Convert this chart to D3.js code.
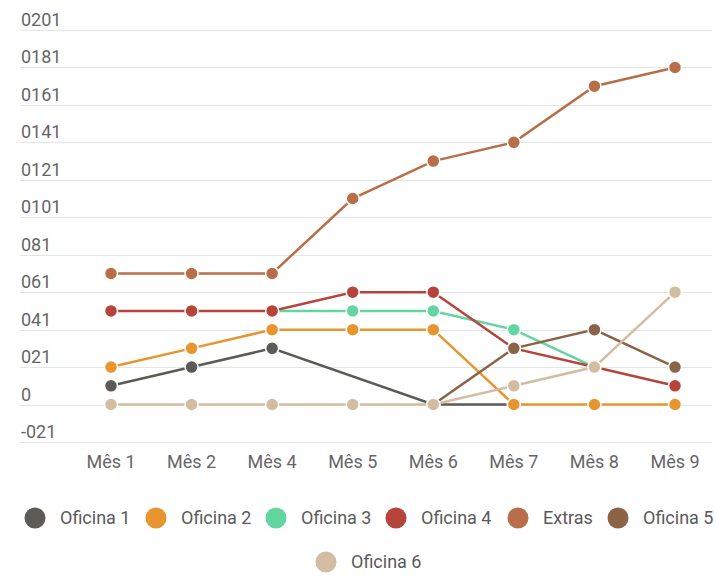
<!DOCTYPE html>
<html lang="pt">
<head>
<meta charset="UTF-8">
<title>Oficinas por mês</title>
<style>
  * { margin: 0; padding: 0; }
  body { background: #fff; font-family: Roboto, "Noto Sans", sans-serif; }
  .grid line { stroke: #e4e4e4; stroke-width: 1; }
  .tick-label { fill: #666; font-size: 18px; }
  .legend text { fill: #5a5a5a; font-size: 18px; }
</style>
</head>
<body>
<svg id="chart" width="716" height="576"></svg>
<script src="https://cdnjs.cloudflare.com/ajax/libs/d3/7.8.5/d3.min.js"></script>
<script>
var months = ['Mês 1', 'Mês 2', 'Mês 4', 'Mês 5', 'Mês 6', 'Mês 7', 'Mês 8', 'Mês 9'];
var yTicks = [-20, 0, 20, 40, 60, 80, 100, 120, 140, 160, 180, 200];
var yTickLabels = ['-021', '0', '021', '041', '061', '081', '0101', '0121', '0141', '0161', '0181', '0201'];

var seriesNames = ['Oficina 1', 'Oficina 2', 'Oficina 3', 'Oficina 4', 'Extras', 'Oficina 5', 'Oficina 6'];
var seriesColors = ['#5c5b56', '#e8952f', '#62d6a0', '#b6443b', '#b86e49', '#8b6346', '#d3bda2'];

var oficina1 = [10, 20, 30, null, 0, 0, null, null];
var oficina2 = [20, 30, 40, 40, 40, 0, 0, 0];
var oficina3 = [null, null, 50, 50, 50, 40, 20, null];
var oficina4 = [50, 50, 50, 60, 60, 30, 20, 10];
var extras   = [70, 70, 70, 110, 130, 140, 170, 180];
var oficina5 = [null, null, null, null, 0, 30, 40, 20];
var oficina6 = [0, 0, 0, 0, 0, 10, 20, 60];

var seriesValues = [oficina1, oficina2, oficina3, oficina4, extras, oficina5, oficina6];

var svg = d3.select('#chart');

var x = d3.scalePoint().domain(months).range([111, 675]);
var y = d3.scaleLinear().domain([-20, 200]).range([442, 30]);

// gridlines + y labels (labels sit just above each line)
var grid = svg.append('g').attr('class', 'grid');
grid.selectAll('line').data(yTicks).enter().append('line')
  .attr('x1', 20).attr('x2', 712)
  .attr('y1', function(d) { return Math.round(y(d)) + 0.5; })
  .attr('y2', function(d) { return Math.round(y(d)) + 0.5; });
grid.selectAll('text').data(yTicks).enter().append('text')
  .attr('class', 'tick-label')
  .attr('x', 21)
  .attr('y', function(d) { return y(d) - 4; })
  .text(function(d, i) { return yTickLabels[i]; });

// x labels
svg.append('g').selectAll('text').data(months).enter().append('text')
  .attr('class', 'tick-label')
  .attr('x', function(d) { return x(d); })
  .attr('y', 468)
  .attr('text-anchor', 'middle')
  .text(function(d) { return d; });

var line = d3.line()
  .x(function(d) { return x(d.m); })
  .y(function(d) { return y(d.v); });

seriesValues.forEach(function(vals, s) {
  var pts = vals.map(function(v, i) { return { m: months[i], v: v }; })
    .filter(function(p) { return p.v !== null; });
  var g = svg.append('g');
  g.append('path')
    .datum(pts)
    .attr('fill', 'none')
    .attr('stroke', seriesColors[s])
    .attr('stroke-width', 2.5)
    .attr('d', line);
  g.selectAll('circle').data(pts).enter().append('circle')
    .attr('cx', function(d) { return x(d.m); })
    .attr('cy', function(d) { return y(d.v); })
    .attr('r', 6.5)
    .attr('fill', seriesColors[s])
    .attr('stroke', '#fff')
    .attr('stroke-width', 1.5);
});

// legend
var legendPos = [
  [35, 518], [156, 518], [276, 518], [396, 518], [518, 518], [618, 518], [326, 562]
];
var legend = svg.append('g').attr('class', 'legend');
seriesNames.forEach(function(name, i) {
  var p = legendPos[i];
  legend.append('circle')
    .attr('cx', p[0]).attr('cy', p[1]).attr('r', 10.5)
    .attr('fill', seriesColors[i]);
  legend.append('text')
    .attr('x', p[0] + 25).attr('y', p[1] + 6)
    .text(name);
});
</script>
</body>
</html>
